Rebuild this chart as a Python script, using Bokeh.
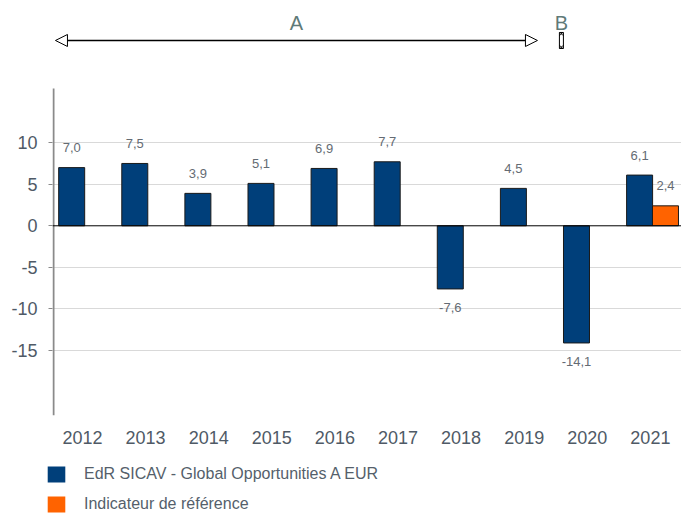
from bokeh.plotting import figure
from bokeh.layouts import column
from bokeh.models import (ColumnDataSource, Range1d, FixedTicker, Span, Arrow, NormalHead,
                          Label, Legend, LegendItem)
from bokeh.embed import file_html
from bokeh.resources import INLINE
from bokeh.core.properties import value

years = ["2012", "2013", "2014", "2015", "2016", "2017", "2018", "2019", "2020", "2021"]
fund = [7.0, 7.5, 3.9, 5.1, 6.9, 7.7, -7.6, 4.5, -14.1, 6.1]
bench_years = ["2021"]
bench = [2.4]
fund_name = "EdR SICAV - Global Opportunities A EUR"
bench_name = "Indicateur de référence"
y_ticks = [10, 5, 0, -5, -10, -15]
period_labels = ["A", "B"]

FONT = "Liberation Sans"
FUND_COLOR = "#003f7a"
BENCH_COLOR = "#ff6300"
BAR_W = 0.412
OFF_F = -0.171
OFF_B = 0.239
X0, X1 = -0.475, 9.493
Y0, Y1 = -22.83, 27.11
PX_PER_X = 63.1

idx = {y: i for i, y in enumerate(years)}

def fmt(v):
    return ("%.1f" % v).replace(".", ",")

fsrc = ColumnDataSource(dict(
    x=[i + OFF_F for i in range(len(years))],
    top=fund,
    lab=[fmt(v) for v in fund],
    off=[-20 if v >= 0 else 19 for v in fund],
))
bsrc = ColumnDataSource(dict(
    x=[idx[y] + OFF_B for y in bench_years],
    top=bench,
    lab=[fmt(v) for v in bench],
    off=[-20 if v >= 0 else 19 for v in bench],
))

p = figure(frame_width=629, frame_height=415, output_backend="svg", toolbar_location=None,
           x_range=Range1d(X0, X1), y_range=Range1d(Y0, Y1),
           min_border_left=52, min_border_right=0, min_border_top=0, min_border_bottom=40)
p.outline_line_color = None
p.background_fill_color = "white"
p.border_fill_color = "white"
p.frame_align = False

# grid
p.xgrid.grid_line_color = None
p.ygrid.ticker = FixedTicker(ticks=[t for t in y_ticks if t != 0])
p.ygrid.grid_line_color = "#d9d9d9"
p.ygrid.grid_line_width = 1

# bars
p.vbar(x="x", top="top", bottom=0, width=BAR_W, source=fsrc,
       fill_color=FUND_COLOR, line_color="#1a1a1a", line_width=1)
p.vbar(x="x", top="top", bottom=0, width=BAR_W, source=bsrc,
       fill_color=BENCH_COLOR, line_color="#1a1a1a", line_width=1)

p.add_layout(Span(location=0, dimension="width", line_color="black", line_width=1))

# value labels
for src in (fsrc, bsrc):
    p.text(x="x", y="top", text="lab", y_offset="off", source=src,
           text_align="center", text_baseline="middle",
           text_font=value(FONT), text_font_size="13px", text_color="#646b73")

# left axis line (partial height)
p.segment(x0=X0 + 1.0 / PX_PER_X, y0=Y0, x1=X0 + 1.0 / PX_PER_X, y1=16.52,
          line_color="#8a8a8a", line_width=2)

# axes
p.yaxis.ticker = FixedTicker(ticks=y_ticks)
p.yaxis.major_label_overrides = {t: str(t) for t in y_ticks}
p.yaxis.axis_line_color = None
p.yaxis.major_tick_in = 0
p.yaxis.major_tick_out = 4
p.yaxis.major_tick_line_color = "#8a8a8a"
p.yaxis.minor_tick_line_color = None
p.yaxis.major_label_text_font = FONT
p.yaxis.major_label_text_font_size = "18px"
p.yaxis.major_label_text_color = "#4f5a66"
p.yaxis.major_label_standoff = 11

p.xaxis.ticker = FixedTicker(ticks=list(range(len(years))))
p.xaxis.major_label_overrides = {i: y for i, y in enumerate(years)}
p.xaxis.axis_line_color = None
p.xaxis.major_tick_line_color = None
p.xaxis.minor_tick_line_color = None
p.xaxis.major_label_text_font = FONT
p.xaxis.major_label_text_font_size = "18px"
p.xaxis.major_label_text_color = "#4f5a66"
p.xaxis.major_label_standoff = 9

# period arrows
def head():
    return NormalHead(size=12, fill_color="white", line_color="black", line_width=1)

p.add_layout(Arrow(start=head(), end=head(), x_start=-0.428, y_start=22.3, x_end=7.21, y_end=22.3,
                   line_color="black", line_width=1.5))
# tiny period B marker
p.rect(x=7.59, y=22.3, width=4, height=16, width_units="screen", height_units="screen",
       fill_color=None, line_color="black", line_width=1)
p.scatter(x=[7.59, 7.59], y=[23.1, 21.5], marker="x", size=5, line_color="black", line_width=1)

for txt, xx in zip(period_labels, [3.39, 7.59]):
    p.add_layout(Label(x=xx, y=24.46, text=txt, text_align="center", text_baseline="middle",
                       text_font=FONT, text_font_size="20px", text_color="#5f7a78"))

# legend figure below (dummy renderers sit outside its visible range)
p2 = figure(width=681, height=58, output_backend="svg", toolbar_location=None,
            x_range=Range1d(0, 1), y_range=Range1d(0, 1),
            x_axis_type=None, y_axis_type=None,
            min_border_left=0, min_border_right=0, min_border_top=0, min_border_bottom=0)
p2.frame_align = False
p2.outline_line_color = None
p2.xgrid.grid_line_color = None
p2.ygrid.grid_line_color = None
l1 = p2.vbar(x=[5], top=[5], width=0.1, fill_color=FUND_COLOR, line_color=None)
l2 = p2.vbar(x=[5], top=[5], width=0.1, fill_color=BENCH_COLOR, line_color=None)

legend = Legend(items=[LegendItem(label=fund_name, renderers=[l1]),
                       LegendItem(label=bench_name, renderers=[l2])],
                orientation="vertical", location=(45, -1),
                glyph_width=22, glyph_height=20, spacing=10,
                label_text_font=FONT, label_text_font_size="16px",
                label_text_color="#555f6b", label_standoff=17,
                border_line_color=None, background_fill_alpha=0,
                margin=0, padding=0)
p2.add_layout(legend, "center")

layout = column(p, p2, spacing=0)
open("out.html", "w").write(file_html(layout, INLINE))
